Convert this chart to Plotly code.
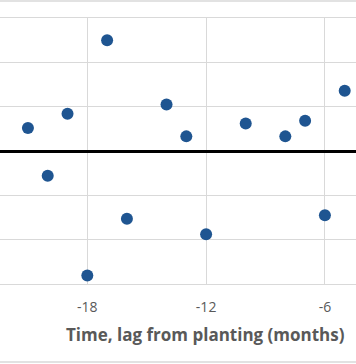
import plotly.graph_objects as go

lag_months = [-21, -20, -19, -18, -17, -16, -14, -13, -12, -10, -8, -7, -6, -5]
values = [0.52, -0.56, 0.84, -2.81, 2.50, -1.53, 1.05, 0.33, -1.88, 0.62, 0.33, 0.68, -1.45, 1.36]
x_ticks = [-18, -12, -6]
x_title = "Time, lag from planting (months)"

fig = go.Figure()
fig.add_trace(go.Scatter(
    x=lag_months, y=values, mode="markers",
    marker=dict(size=12, color="#1F5591", line=dict(width=0)),
    hoverinfo="x+y", showlegend=False, cliponaxis=False,
))

fig.update_layout(
    width=356, height=364,
    margin=dict(l=0, r=0, t=18, b=80),
    paper_bgcolor="white", plot_bgcolor="white",
    font=dict(family="Open Sans, Liberation Sans, sans-serif", color="#595959"),
    xaxis=dict(
        range=[-22.41, -4.43], tickvals=x_ticks, ticktext=[str(t) for t in x_ticks],
        showgrid=True, gridcolor="#D9D9D9", gridwidth=1,
        zeroline=False, showline=True, linecolor="#D9D9D9", linewidth=1, mirror=True,
        ticks="", ticklabelstandoff=10, tickfont=dict(size=14, color="#595959"),
    ),
    yaxis=dict(
        range=[-3, 3], dtick=1, showticklabels=False,
        showgrid=True, gridcolor="#D9D9D9", gridwidth=1,
        zeroline=True, zerolinecolor="#000000", zerolinewidth=3,
        showline=False, ticks="",
    ),
    annotations=[
        dict(text="<b>" + x_title + "</b>", xref="paper", yref="paper",
             x=205.5 / 356, y=(284 - 334) / 266, xanchor="center", yanchor="middle",
             showarrow=False, font=dict(size=17, color="#595959")),
    ],
    shapes=[
        dict(type="line", xref="paper", yref="paper", x0=0, x1=1, y0=1 + 17 / 266, y1=1 + 17 / 266,
             line=dict(color="#D9D9D9", width=1.5)),
        dict(type="line", xref="paper", yref="paper", x0=0, x1=1, y0=-78 / 266, y1=-78 / 266,
             line=dict(color="#D9D9D9", width=1.5)),
    ],
)

fig.write_html("out.html", config={"displayModeBar": False},
               post_script="document.body.style.margin='0';document.body.style.overflow='hidden';")
